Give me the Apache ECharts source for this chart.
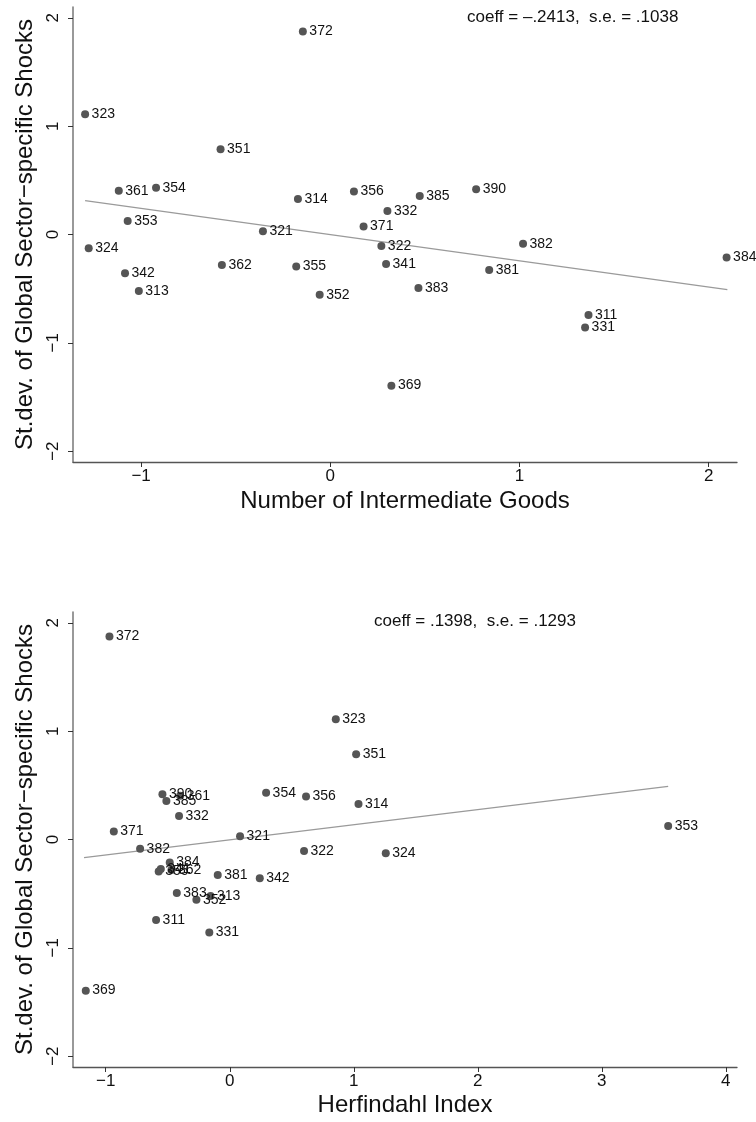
<!DOCTYPE html>
<html>
<head>
<meta charset="utf-8">
<script src="https://cdn.jsdelivr.net/npm/echarts@6/dist/echarts.min.js"></script>
<style>
  html, body { margin: 0; padding: 0; background: #fff; }
  #main { width: 756px; height: 1122px; }
</style>
</head>
<body>
<div id="main"></div>
<script>
// sector codes (ISIC)
const sectors = ['372', '323', '351', '361', '354', '314', '356', '353', '321', '332',
  '371', '324', '322', '362', '355', '341', '342', '313', '352', '369',
  '385', '390', '382', '384', '381', '383', '311', '331']
// st.dev. of global sector-specific shocks (same for both panels)
const shockSd = [1.875, 1.111, 0.787, 0.404, 0.432, 0.327, 0.397, 0.125, 0.030, 0.218,
  0.074, -0.128, -0.105, -0.281, -0.296, -0.272, -0.358, -0.522, -0.556, -1.395,
  0.355, 0.417, -0.085, -0.213, -0.328, -0.494, -0.744, -0.858]
// number of intermediate goods
const intermGoods = [-0.145, -1.296, -0.580, -1.118, -0.921, -0.171, 0.125, -1.071, -0.356, 0.302,
  0.176, -1.277, 0.270, -0.573, -0.180, 0.295, -1.085, -1.012, -0.056, 0.323,
  0.473, 0.771, 1.019, 2.095, 0.840, 0.466, 1.365, 1.347]
// herfindahl index
const herfindahl = [-0.970, 0.855, 1.019, -0.400, 0.293, 1.038, 0.615, 3.535, 0.083, -0.409,
  -0.935, 1.258, 0.599, -0.470, -0.573, -0.556, 0.242, -0.155, -0.269, -1.161,
  -0.511, -0.543, -0.723, -0.484, -0.097, -0.427, -0.594, -0.165]
// fitted lines (end points)
const fitTop = [[-1.296, 0.312], [2.099, -0.509]]
const fitBottom = [[-1.175, -0.167], [3.535, 0.491]]
const yTicks = [-2, -1, 0, 1, 2]
const xTicksTop = [-1, 0, 1, 2]
const xTicksBottom = [-1, 0, 1, 2, 3, 4]
const coeffTop = 'coeff = –.2413,  s.e. = .1038'
const coeffBottom = 'coeff = .1398,  s.e. = .1293'

const FONT = 'Liberation Sans'
const fmt = (v) => (v < 0 ? '−' + Math.abs(v) : String(v))

const chart = echarts.init(document.getElementById('main'))

function xAxisCfg (idx, name, min, max, ticks, gap) {
  return {
    type: 'value',
    gridIndex: idx,
    min: min,
    max: max,
    name: name,
    nameLocation: 'middle',
    nameGap: gap,
    nameTextStyle: { fontFamily: FONT, fontSize: 24, color: '#111' },
    axisLine: { show: true, onZero: false, lineStyle: { color: '#555', width: 1.3 } },
    axisTick: { show: true, length: 5, customValues: ticks, lineStyle: { color: '#333' } },
    axisLabel: { customValues: ticks, formatter: fmt, margin: 6, fontFamily: FONT, fontSize: 17, color: '#111' },
    splitLine: { show: false }
  }
}

function yAxisCfg (idx) {
  return {
    type: 'value',
    gridIndex: idx,
    min: -2.1,
    max: 2.1,
    name: 'St.dev. of Global Sector−specific Shocks',
    nameLocation: 'middle',
    nameGap: 31,
    nameTextStyle: { fontFamily: FONT, fontSize: 24, color: '#111' },
    axisLine: { show: true, onZero: false, lineStyle: { color: '#777', width: 1.5 } },
    axisTick: { show: true, length: 5, customValues: yTicks, lineStyle: { color: '#333' } },
    axisLabel: { customValues: yTicks, formatter: fmt, rotate: 90, margin: 11, fontFamily: FONT, fontSize: 17, color: '#111' },
    splitLine: { show: false }
  }
}

function scatterSeries (idx, xs) {
  return {
    type: 'scatter',
    xAxisIndex: idx,
    yAxisIndex: idx,
    symbolSize: 8,
    itemStyle: { color: '#555', opacity: 1 },
    data: sectors.map((s, i) => [xs[i], shockSd[i], s]),
    label: {
      show: true,
      position: 'right',
      distance: 2.5,
      formatter: (p) => p.data[2],
      fontFamily: FONT,
      fontSize: 14,
      color: '#111'
    },
    z: 3
  }
}

function fitSeries (idx, pts) {
  return {
    type: 'line',
    xAxisIndex: idx,
    yAxisIndex: idx,
    data: pts,
    symbol: 'none',
    lineStyle: { color: '#9a9a9a', width: 1.3 },
    z: 2
  }
}

const option = {
  backgroundColor: '#fff',
  animation: false,
  title: [
    { text: coeffTop, left: 467, top: 9, padding: 0, textStyle: { fontFamily: FONT, fontSize: 17, fontWeight: 'normal', color: '#111' } },
    { text: coeffBottom, left: 374, top: 613, padding: 0, textStyle: { fontFamily: FONT, fontSize: 17, fontWeight: 'normal', color: '#111' } }
  ],
  grid: [
    { left: 73, right: 19, top: 7, height: 455 },
    { left: 73, right: 19, top: 612, height: 455 }
  ],
  xAxis: [
    xAxisCfg(0, 'Number of Intermediate Goods', -1.36, 2.15, xTicksTop, 27),
    xAxisCfg(1, 'Herfindahl Index', -1.264, 4.09, xTicksBottom, 26)
  ],
  yAxis: [yAxisCfg(0), yAxisCfg(1)],
  series: [
    fitSeries(0, fitTop),
    scatterSeries(0, intermGoods),
    fitSeries(1, fitBottom),
    scatterSeries(1, herfindahl)
  ]
}

chart.setOption(option)
</script>
</body>
</html>
